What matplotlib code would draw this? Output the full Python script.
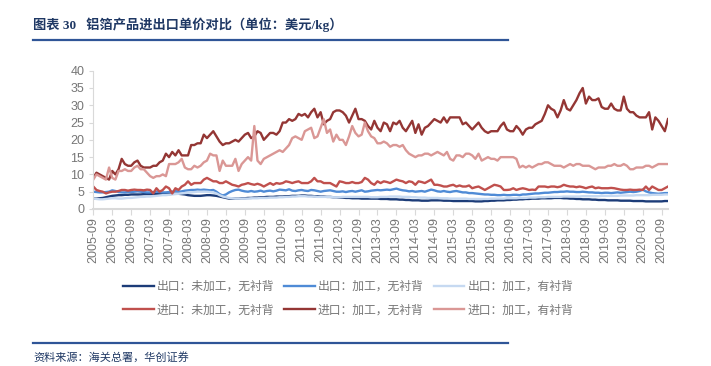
import numpy as np
import pandas as pd
import matplotlib
matplotlib.use("Agg")
import matplotlib.pyplot as plt
from matplotlib.lines import Line2D

# monthly data, 2005-09 .. 2020-11 (USD/kg)
months = pd.date_range("2005-09-01", "2020-11-01", freq="MS")

exp_raw = [  # 出口：未加工，无衬背
    3.0, 3.0, 3.1, 3.2, 3.4, 3.6, 3.8, 3.9, 4.0, 4.0, 4.1, 4.1,
    4.2, 4.2, 4.2, 4.2, 4.3, 4.3, 4.3, 4.3, 4.3, 4.3, 4.3, 4.3,
    4.3, 4.4, 4.4, 4.4, 4.3, 4.2, 4.0, 3.9, 3.8, 3.8, 3.8, 3.9,
    4.0, 4.0, 3.9, 3.8, 3.6, 3.4, 3.2, 3.0, 3.0, 3.0, 3.0, 3.1,
    3.1, 3.2, 3.2, 3.3, 3.3, 3.4, 3.4, 3.5, 3.5, 3.5, 3.6, 3.6,
    3.6, 3.7, 3.7, 3.8, 3.8, 3.8, 3.9, 3.9, 3.8, 3.8, 3.7, 3.7,
    3.6, 3.6, 3.5, 3.5, 3.4, 3.4, 3.3, 3.3, 3.2, 3.2, 3.1, 3.1,
    3.1, 3.0, 3.0, 3.0, 3.0, 3.0, 3.0, 2.9, 2.9, 2.9, 2.8, 2.8,
    2.8, 2.7, 2.7, 2.6, 2.6, 2.5, 2.5, 2.5, 2.4, 2.4, 2.4, 2.5,
    2.5, 2.5, 2.5, 2.4, 2.4, 2.4, 2.3, 2.3, 2.3, 2.3, 2.3, 2.3,
    2.3, 2.2, 2.2, 2.2, 2.3, 2.3, 2.4, 2.4, 2.5, 2.5, 2.5, 2.6,
    2.6, 2.7, 2.7, 2.8, 2.8, 2.9, 2.9, 3.0, 3.0, 3.0, 3.1, 3.1,
    3.1, 3.1, 3.2, 3.2, 3.2, 3.1, 3.1, 3.0, 3.0, 2.9, 2.9, 2.8,
    2.8, 2.8, 2.7, 2.7, 2.6, 2.6, 2.6, 2.5, 2.5, 2.5, 2.5, 2.4,
    2.4, 2.4, 2.4, 2.3, 2.3, 2.3, 2.3, 2.2, 2.2, 2.2, 2.2, 2.2,
    2.2, 2.3, 2.3]

exp_proc = [  # 出口：加工，无衬背
    5.0, 4.9, 4.8, 4.8, 4.9, 5.0, 5.4, 5.2, 4.9, 4.8, 4.8, 4.9,
    4.9, 5.0, 5.1, 5.0, 4.9, 4.8, 4.8, 4.9, 5.0, 4.9, 4.8, 4.8,
    4.9, 5.0, 5.2, 5.0, 5.1, 5.3, 5.4, 5.5, 5.5, 5.6, 5.5, 5.6,
    5.5, 5.4, 5.5, 5.0, 4.3, 3.9, 4.2, 4.8, 5.2, 5.5, 5.6, 5.3,
    5.1, 5.0, 5.2, 5.0, 5.1, 5.3, 5.0, 5.2, 5.3, 5.1, 5.3, 5.6,
    5.5, 5.4, 5.7, 5.3, 5.2, 5.4, 5.5, 5.3, 5.2, 5.5, 5.4, 5.2,
    5.0, 5.2, 5.3, 5.4, 5.2, 5.0, 5.0, 5.1, 4.9, 5.1, 5.2, 5.0,
    5.2, 5.4, 5.0, 5.1, 5.3, 5.4, 5.5, 5.4, 5.5, 5.6, 5.5, 5.7,
    5.9, 5.6, 5.4, 5.3, 5.1, 5.2, 5.0, 5.1, 5.2, 5.0, 5.3, 5.6,
    5.4, 5.1, 5.0, 5.2, 5.0, 4.9, 5.1, 5.2, 5.0, 4.8, 4.8, 4.6,
    4.6, 4.5, 4.4, 4.3, 4.2, 4.2, 4.1, 4.1, 4.0, 4.0, 4.1, 4.0,
    4.0, 4.1, 4.1, 4.0, 4.2, 4.2, 4.3, 4.4, 4.5, 4.5, 4.6, 4.7,
    4.7, 4.8, 4.9, 4.9, 5.0, 5.0, 5.1, 5.0, 5.0, 4.9, 4.9, 5.0,
    4.9, 4.8, 4.8, 4.7, 4.7, 4.6, 4.7, 4.7, 4.6, 4.7, 4.8, 4.7,
    4.8, 4.9, 5.0, 4.9, 5.0, 5.2, 5.6, 5.1, 4.8, 4.6, 4.5, 4.4,
    4.5, 4.6, 4.6]

exp_liner = [  # 出口：加工，有衬背
    3.0, 2.9, 2.8, 2.8, 2.9, 3.0, 3.1, 3.1, 3.0, 3.0, 3.1, 3.2,
    3.2, 3.3, 3.4, 3.5, 3.5, 3.6, 3.6, 3.7, 3.8, 3.9, 4.0, 4.0,
    4.1, 4.2, 4.3, 4.4, 4.5, 4.6, 4.7, 4.8, 4.9, 5.0, 5.0, 5.0,
    5.0, 4.9, 4.8, 4.5, 4.0, 3.6, 3.4, 3.2, 3.1, 3.0, 3.0, 3.0,
    3.0, 3.0, 3.1, 3.1, 3.1, 3.2, 3.2, 3.2, 3.3, 3.3, 3.3, 3.4,
    3.4, 3.5, 3.5, 3.6, 3.6, 3.7, 3.7, 3.7, 3.6, 3.6, 3.6, 3.5,
    3.5, 3.5, 3.5, 3.5, 3.4, 3.4, 3.4, 3.5, 3.5, 3.5, 3.5, 3.5,
    3.5, 3.5, 3.5, 3.5, 3.4, 3.4, 3.4, 3.5, 3.5, 3.5, 3.6, 3.6,
    3.6, 3.6, 3.5, 3.5, 3.5, 3.4, 3.4, 3.3, 3.3, 3.3, 3.2, 3.2,
    3.2, 3.2, 3.1, 3.1, 3.1, 3.0, 3.0, 3.0, 3.0, 3.0, 3.0, 2.9,
    2.9, 2.9, 2.9, 2.9, 2.9, 2.9, 3.0, 3.0, 3.0, 3.0, 3.0, 3.1,
    3.1, 3.1, 3.1, 3.2, 3.2, 3.2, 3.3, 3.3, 3.3, 3.4, 3.4, 3.4,
    3.5, 3.5, 3.5, 3.5, 3.5, 3.6, 3.6, 3.6, 3.6, 3.6, 3.6, 3.7,
    3.7, 3.7, 3.7, 3.7, 3.7, 3.8, 3.8, 3.8, 3.8, 3.8, 3.8, 3.9,
    3.9, 3.9, 3.9, 3.9, 4.0, 4.0, 4.0, 4.0, 4.0, 4.1, 4.1, 4.1,
    4.1, 4.2, 4.2]

imp_raw = [  # 进口：未加工，无衬背
    6.5, 5.5, 5.2, 5.0, 4.5, 4.8, 5.0, 5.0, 5.2, 5.5, 5.5, 5.3,
    5.5, 5.6, 5.5, 5.5, 5.4, 5.6, 5.5, 4.5, 6.0, 5.0, 5.5, 6.5,
    6.0, 4.5, 6.0, 5.5, 6.5, 7.0, 8.0, 7.0, 7.5, 7.5, 7.5, 8.5,
    9.0, 8.5, 8.0, 8.0, 7.5, 7.5, 8.0, 7.5, 7.0, 6.8, 6.5, 7.0,
    7.2, 7.5, 7.2, 7.0, 7.3, 7.0, 6.5, 7.0, 7.5, 7.0, 7.5, 7.3,
    7.5, 8.0, 7.8, 7.5, 7.8, 8.0, 7.5, 7.5, 7.5, 8.0, 9.0, 8.0,
    8.0, 7.5, 7.5, 7.5, 7.0, 6.5, 8.0, 7.8, 7.5, 7.5, 7.8, 7.5,
    7.5, 7.8, 9.0, 8.5, 7.5, 7.0, 8.0, 7.5, 8.0, 7.8, 7.5, 8.0,
    8.5, 8.2, 8.0, 7.5, 8.0, 7.8, 7.0, 8.0, 7.8, 7.5, 8.0, 8.5,
    7.0, 7.0, 6.8, 6.5, 6.5, 6.8, 7.0, 6.5, 6.8, 6.5, 6.5, 6.8,
    6.0, 6.3, 6.5, 6.0, 5.5, 6.0, 6.5, 7.0, 6.8, 6.5, 5.5, 5.5,
    5.6, 6.0, 5.5, 5.8, 6.0, 5.8, 5.5, 5.6, 5.5, 6.5, 6.5, 6.5,
    6.3, 6.5, 6.5, 6.3, 6.5, 7.0, 6.7, 6.5, 6.5, 6.3, 6.5, 6.3,
    6.0, 6.3, 6.5, 6.0, 6.2, 6.0, 6.0, 6.0, 6.1, 6.0, 5.8, 5.6,
    5.5, 5.5, 5.6, 5.5, 5.5, 5.6, 5.5, 6.5, 5.5, 6.5, 6.0, 5.5,
    5.5, 6.0, 6.5]

imp_proc = [  # 进口：加工，无衬背
    9.0, 10.5, 10.0, 9.5, 9.0, 8.5, 11.0, 10.0, 11.5, 14.5, 13.0, 12.5,
    12.5, 13.5, 14.0, 12.5, 12.0, 12.0, 12.0, 12.5, 12.5, 13.5, 14.0, 16.0,
    15.0, 16.5, 15.5, 17.0, 15.5, 15.5, 15.5, 18.5, 18.5, 19.0, 19.0, 21.5,
    20.5, 21.5, 22.5, 21.0, 19.5, 18.5, 19.0, 19.0, 19.5, 20.0, 19.5, 20.5,
    21.5, 22.0, 20.5, 21.0, 22.5, 22.0, 20.0, 21.0, 22.0, 22.0, 21.5, 22.5,
    25.0, 25.0, 26.0, 25.5, 26.0, 27.5, 27.0, 27.5, 26.5, 28.0, 29.0, 26.5,
    28.0, 24.5, 25.5, 26.0, 28.0, 28.5, 28.5, 28.0, 27.0, 25.0, 27.0, 29.0,
    26.0, 26.0, 25.5, 24.0, 23.0, 25.5, 23.5, 22.5, 25.0, 24.5, 22.5, 25.0,
    24.5, 25.5, 23.5, 22.5, 24.0, 25.5, 22.0, 24.5, 21.5, 23.5, 24.0, 25.0,
    26.0, 25.5, 25.0, 26.5, 25.0, 26.5, 26.5, 26.5, 26.5, 24.5, 25.0, 24.0,
    23.0, 24.0, 25.0, 23.5, 22.5, 22.0, 22.5, 22.5, 22.5, 24.0, 25.0, 23.0,
    22.5, 22.5, 24.0, 23.0, 21.5, 23.0, 23.5, 23.5, 24.5, 25.0, 25.5, 27.5,
    30.0, 29.0, 28.5, 26.5, 28.5, 31.5, 29.0, 28.5, 30.0, 31.5, 33.5, 35.0,
    30.5, 32.5, 31.5, 31.5, 32.0, 29.5, 29.0, 29.0, 30.5, 29.0, 28.5, 28.5,
    32.5, 29.0, 28.0, 28.0, 27.0, 26.5, 26.5, 26.5, 28.0, 23.0, 26.5, 25.5,
    24.0, 22.5, 26.0]

imp_liner = [  # 进口：加工，有衬背
    8.5, 10.0, 9.5, 9.0, 8.5, 12.0, 9.0, 8.5, 11.0, 11.0, 11.5, 11.0,
    11.0, 12.0, 12.5, 11.5, 11.5, 10.5, 9.5, 9.0, 9.5, 9.5, 10.0, 9.5,
    13.0, 13.0, 13.0, 13.5, 14.5, 12.0, 11.5, 11.5, 12.5, 12.0, 12.5, 13.5,
    14.0, 16.0, 15.5, 15.5, 11.0, 14.0, 12.5, 12.5, 12.5, 14.5, 11.0, 13.0,
    14.0, 15.0, 14.0, 24.0, 14.0, 13.0, 14.5, 15.0, 15.5, 16.0, 16.5, 17.0,
    16.5, 17.5, 18.5, 20.5, 21.0, 20.5, 20.0, 22.5, 23.0, 23.5, 20.5, 21.0,
    23.5, 26.0, 22.0, 23.0, 19.5, 21.5, 20.0, 20.0, 18.5, 21.0, 24.0, 22.0,
    21.0, 21.5, 25.0, 22.5, 21.0, 20.5, 19.0, 19.0, 19.5, 19.0, 18.0, 18.5,
    18.5, 18.0, 18.5, 17.0, 16.0, 15.5, 15.0, 15.5, 15.5, 16.0, 16.0, 15.5,
    16.0, 16.5, 16.0, 15.5, 16.5, 14.5, 14.0, 15.5, 15.5, 15.0, 16.0, 16.0,
    15.5, 14.5, 16.0, 14.0, 14.5, 15.0, 14.5, 14.5, 14.0, 15.0, 15.0, 15.0,
    15.0, 15.0, 14.5, 12.0, 12.5, 12.0, 12.5, 12.0, 12.5, 13.0, 13.0, 13.5,
    13.5, 13.0, 12.5, 12.5, 12.5, 12.0, 12.5, 13.0, 12.5, 13.0, 13.0, 12.5,
    12.5, 12.5, 12.0, 11.5, 12.0, 12.0, 12.0, 12.5, 12.5, 13.0, 12.5, 12.5,
    13.0, 12.5, 11.5, 11.5, 12.0, 12.0, 12.0, 12.5, 12.5, 12.0, 12.5, 13.0,
    13.0, 13.0, 13.0]

series = [
    ("出口：未加工，无衬背", exp_raw, "#1c3c78"),
    ("出口：加工，无衬背", exp_proc, "#4f8bd6"),
    ("出口：加工，有衬背", exp_liner, "#c6d9f1"),
    ("进口：未加工，无衬背", imp_raw, "#c0504d"),
    ("进口：加工，无衬背", imp_proc, "#943634"),
    ("进口：加工，有衬背", imp_liner, "#da9795"),
]

tick_pos = list(range(0, len(months), 6))
tick_labels = [months[i].strftime("%Y-%m") for i in tick_pos]

plt.rcParams["font.family"] = ["Liberation Sans", "Noto Sans CJK SC"]
grey = "#767676"

fig = plt.figure(figsize=(7.11, 3.66), dpi=100)
ax = fig.add_axes([0.1312, 0.429, 0.8083, 0.3778])

x = np.arange(len(months))
handles = []
for name, vals, col in series:
    ln, = ax.plot(x, vals, color=col, lw=1.7, label=name, solid_joinstyle="round")
    handles.append(ln)

ax.set_xlim(0, len(months) - 1)
ax.set_ylim(0, 40)
ax.set_yticks(range(0, 41, 5))
ax.set_xticks(tick_pos)
ax.set_xticklabels(tick_labels, rotation=90, fontsize=9, color=grey)
ax.tick_params(axis="y", labelsize=9, labelcolor=grey, color="#d9d9d9", length=3)
ax.tick_params(axis="x", color="#d9d9d9", length=4, pad=2)
for s in ["top", "right"]:
    ax.spines[s].set_visible(False)
ax.spines["left"].set_color("#d9d9d9")
ax.spines["bottom"].set_color("#d9d9d9")
ax.spines["bottom"].set_linewidth(1.5)

# legend: first row export, second row import (matplotlib fills column-wise)
order = [0, 3, 1, 4, 2, 5]
fig.legend([handles[i] for i in order], [series[i][0] for i in order],
           ncol=3, loc="center", bbox_to_anchor=(348 / 711, 1 - 298 / 366),
           frameon=False, handlelength=2.6, handletextpad=0.25,
           columnspacing=0.85, labelspacing=0.9,
           prop={"family": "Noto Sans CJK SC", "size": 8.5},
           labelcolor=grey)

# header / footer
navy = "#1f3864"
fig.text(33 / 711, 1 - 25 / 366, "图表 30   铝箔产品进出口单价对比（单位：美元/kg）",
         fontsize=9.5, fontweight="bold", color=navy, va="center", ha="left",
         family=["Liberation Serif", "Noto Sans CJK SC"])
fig.add_artist(Line2D([33 / 711, 508 / 711], [1 - 39.5 / 366] * 2,
                      color="#2f5597", lw=1.6))
fig.add_artist(Line2D([33 / 711, 508 / 711], [1 - 342.5 / 366] * 2,
                      color="#2f5597", lw=1.6))
fig.text(33 / 711, 1 - 357 / 366, "资料来源：海关总署，华创证券",
         fontsize=8, color=navy, va="center", ha="left",
         family=["Noto Sans CJK SC"])

fig.savefig("out.png", dpi=100)
